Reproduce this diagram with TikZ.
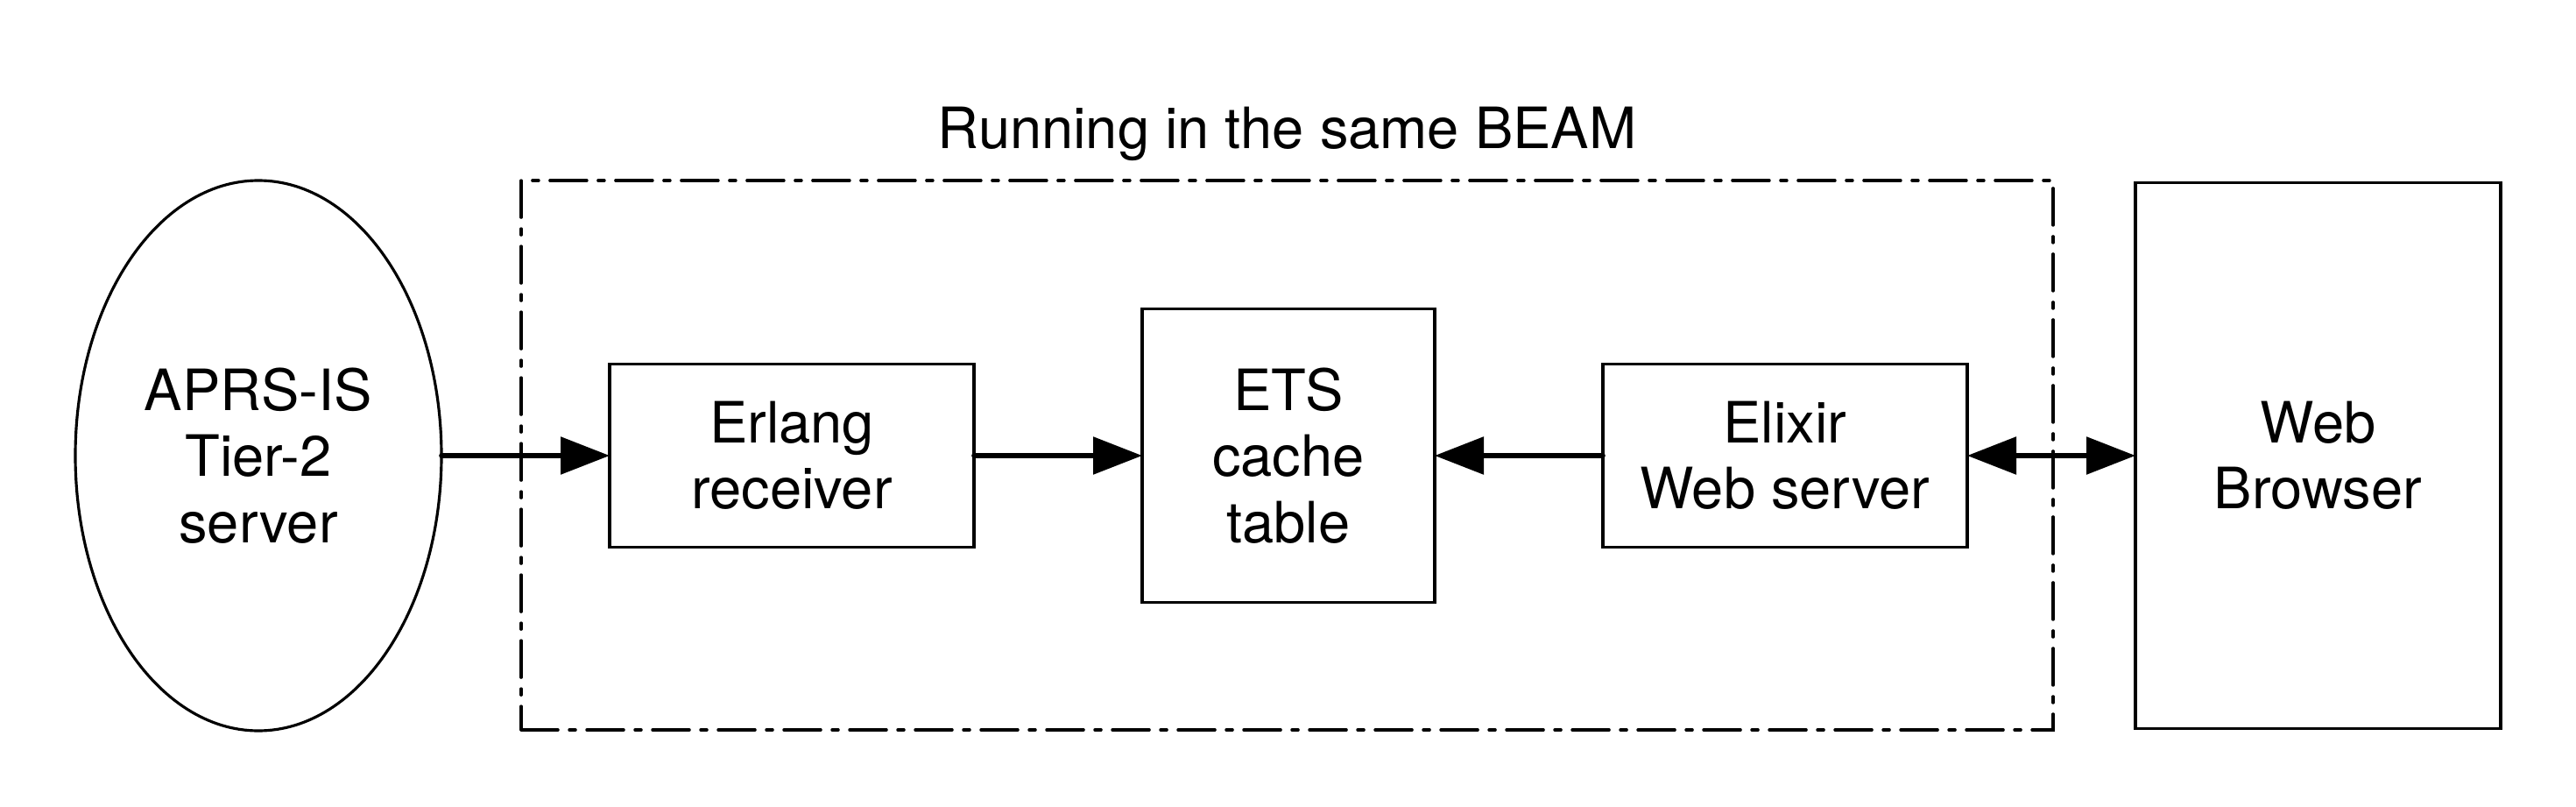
\documentclass[tikz,border=0pt]{standalone}
\usepackage{fontspec}
\setmainfont{TeX Gyre Heros}
\usetikzlibrary{shapes.geometric, positioning, arrows.meta}

\begin{document}
\begin{tikzpicture}[
            font=\fontsize{18.5}{21.5}\selectfont,
            >={Triangle[length=0.56cm, width=0.42cm]}, % punta triangular llena
            box/.style={draw, line width=1pt, align=center, inner sep=0pt, outer sep=0pt},
            flow/.style={line width=1.6pt, line cap=round},
            beamframe/.style={draw, line width=1pt, line cap=round,
                dash pattern=on 0.42cm off 0.13cm on 0.07cm off 0.13cm}
        ]
        \useasboundingbox (0,0) rectangle (29.41,9.20);

        % --- Servidor externo ---
        \node[ellipse, draw, line width=0.9pt, outer sep=0pt, minimum width=4.18cm, minimum height=6.28cm,
            align=center, inner sep=0pt] (aprs) at (2.95,4.00) {APRS-IS\\Tier-2\\server};

        % --- Procesos dentro de la BEAM ---
        \node[box, minimum width=4.16cm, minimum height=2.09cm, right=1.92cm of aprs] (erlang) {Erlang\\receiver};
        \node[box, minimum width=3.34cm, minimum height=3.35cm, right=1.92cm of erlang] (ets) {ETS\\cache\\table};
        \node[box, minimum width=4.16cm, minimum height=2.09cm, right=1.92cm of ets] (elixir) {Elixir\\Web server};

        % --- Cliente ---
        \node[box, minimum width=4.17cm, minimum height=6.23cm, right=1.92cm of elixir] (browser) {Web\\Browser};

        % Marco punteado de la BEAM
        \node[beamframe, minimum width=17.49cm, minimum height=6.27cm] (beam) at (14.695,4.005) {};
        \node[anchor=base] (beamlabel) at ([yshift=0.35cm]beam.north) {Running in the same BEAM};

        % --- Flechas ---
        \draw[flow, ->] (aprs.east) -- (erlang.west);
        \draw[flow, ->] (erlang.east) -- (ets.west);
        \draw[flow, ->] (elixir.west) -- (ets.east);
        \draw[flow, <->] (elixir.east) -- (browser.west);

\end{tikzpicture}
\end{document}
